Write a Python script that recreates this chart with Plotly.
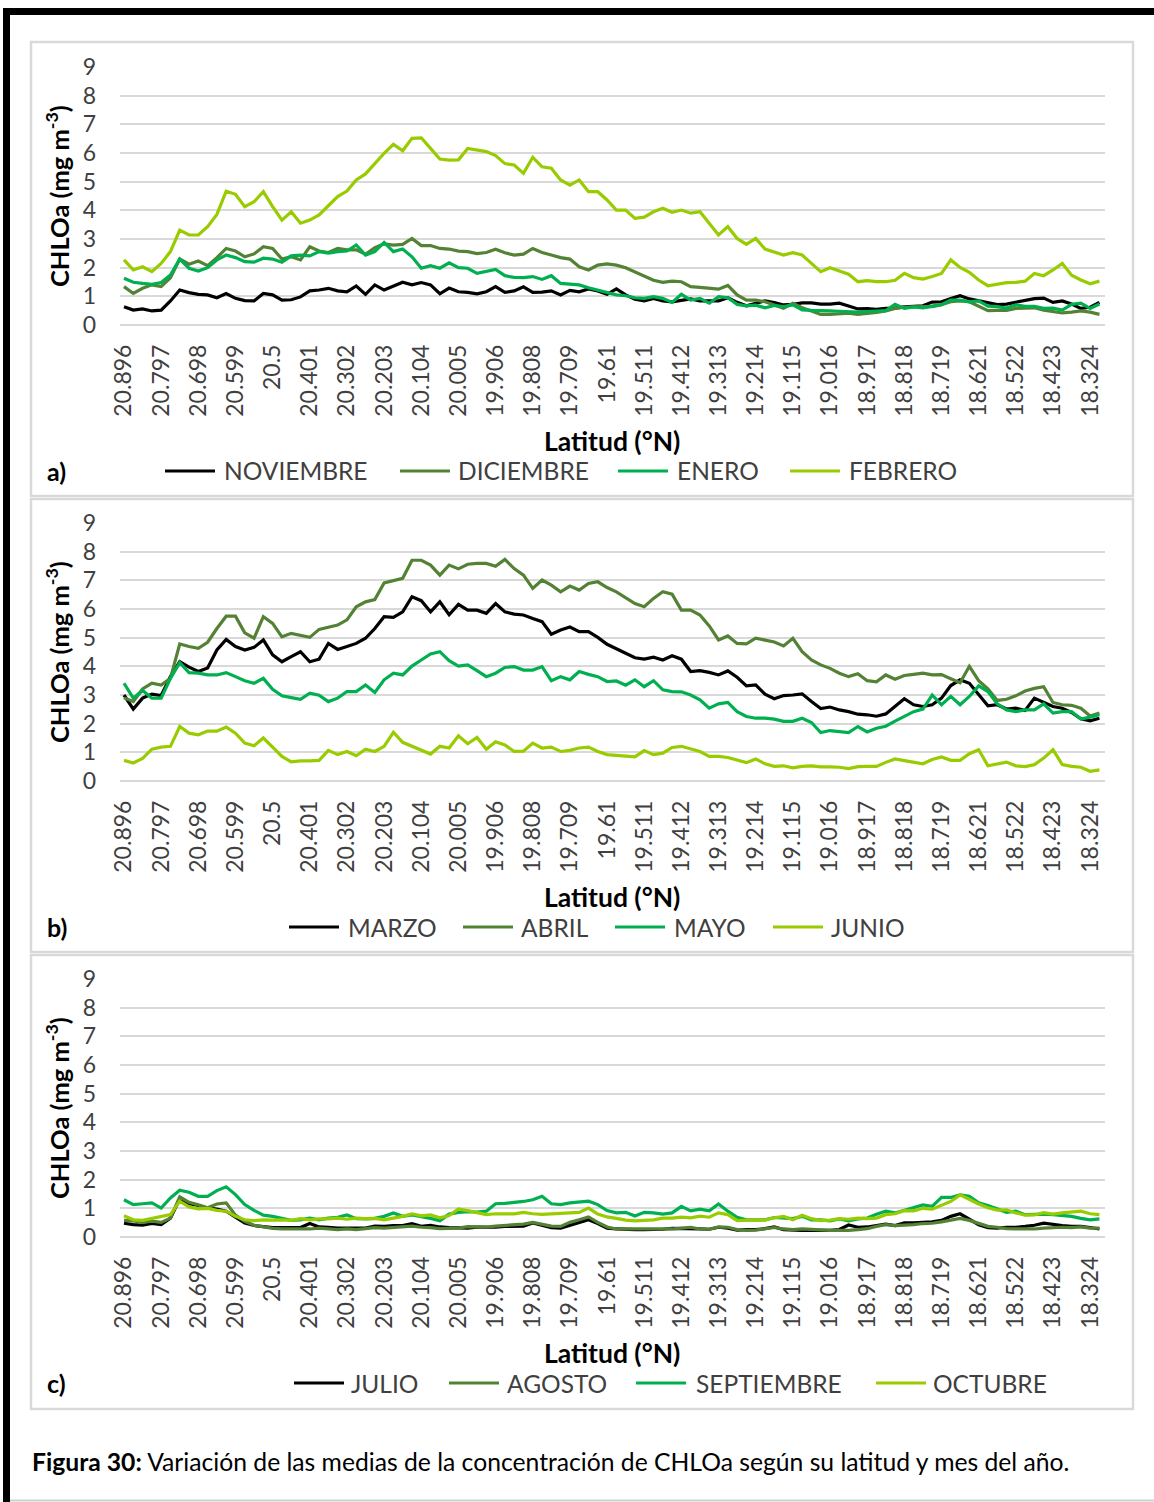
import plotly.graph_objects as go

# ---------------- DATA ----------------
lat_ticks = ["20.896", "20.797", "20.698", "20.599", "20.5", "20.401", "20.302", "20.203",
             "20.104", "20.005", "19.906", "19.808", "19.709", "19.61", "19.511", "19.412",
             "19.313", "19.214", "19.115", "19.016", "18.917", "18.818", "18.719", "18.621",
             "18.522", "18.423", "18.324"]

# panel a
noviembre = [0.64,0.52,0.56,0.49,0.52,0.84,1.22,1.13,1.07,1.05,0.95,1.10,0.93,0.85,0.84,1.10,1.05,0.87,0.88,0.98,1.19,1.22,1.28,1.19,1.16,1.36,1.07,1.40,1.22,1.37,1.49,1.40,1.48,1.40,1.09,1.29,
             1.16,1.14,1.09,1.16,1.34,1.14,1.19,1.33,1.14,1.15,1.19,1.05,1.21,1.16,1.26,1.19,1.07,1.26,1.05,0.90,0.84,0.93,0.84,0.81,0.85,0.91,0.84,0.84,0.84,0.95,0.79,0.67,0.76,0.84,0.78,
             0.70,0.72,0.77,0.77,0.73,0.73,0.76,0.66,0.56,0.57,0.55,0.58,0.59,0.63,0.66,0.67,0.80,0.81,0.92,1.02,0.91,0.85,0.77,0.71,0.73,0.79,0.85,0.92,0.94,0.79,0.84,0.73,0.58,0.62,0.79]
diciembre = [1.34,1.10,1.28,1.40,1.34,1.65,2.30,2.12,2.23,2.07,2.35,2.67,2.58,2.38,2.48,2.73,2.67,2.30,2.38,2.27,2.73,2.58,2.53,2.67,2.62,2.62,2.47,2.70,2.83,2.79,2.81,3.02,2.77,2.77,2.67,2.65,
             2.58,2.56,2.49,2.53,2.64,2.52,2.44,2.47,2.67,2.53,2.44,2.35,2.30,2.03,1.92,2.09,2.13,2.09,2.00,1.86,1.71,1.56,1.49,1.53,1.51,1.34,1.31,1.28,1.25,1.38,1.05,0.87,0.87,0.81,0.70,
             0.58,0.76,0.60,0.49,0.37,0.37,0.40,0.41,0.37,0.40,0.44,0.49,0.58,0.62,0.64,0.64,0.64,0.71,0.81,0.84,0.81,0.64,0.50,0.51,0.51,0.58,0.60,0.60,0.52,0.47,0.42,0.45,0.49,0.45,0.37]
enero = [1.63,1.49,1.45,1.42,1.48,1.74,2.30,1.98,1.88,2.00,2.27,2.44,2.35,2.21,2.19,2.33,2.30,2.19,2.41,2.44,2.41,2.56,2.51,2.56,2.58,2.79,2.44,2.56,2.88,2.56,2.65,2.38,1.98,2.07,1.98,2.17,
         2.00,1.98,1.80,1.86,1.94,1.72,1.66,1.65,1.69,1.59,1.72,1.45,1.42,1.40,1.30,1.22,1.14,1.05,1.02,0.95,0.93,0.99,0.93,0.79,1.07,0.87,0.93,0.76,0.99,0.95,0.72,0.67,0.69,0.60,0.68,
         0.64,0.70,0.53,0.51,0.49,0.49,0.48,0.47,0.45,0.47,0.49,0.50,0.72,0.58,0.63,0.60,0.66,0.71,0.87,0.87,0.81,0.84,0.66,0.64,0.59,0.70,0.65,0.65,0.58,0.59,0.52,0.72,0.76,0.58,0.73]
febrero = [2.27,1.92,2.03,1.86,2.15,2.56,3.31,3.14,3.14,3.43,3.86,4.67,4.56,4.13,4.30,4.65,4.13,3.66,3.95,3.55,3.66,3.84,4.16,4.48,4.67,5.06,5.27,5.64,5.99,6.30,6.08,6.51,6.53,6.16,5.79,5.75,
           5.76,6.16,6.10,6.05,5.91,5.63,5.58,5.29,5.85,5.52,5.47,5.06,4.88,5.06,4.65,4.65,4.36,4.01,4.01,3.72,3.76,3.95,4.07,3.93,4.01,3.90,3.95,3.55,3.14,3.43,3.02,2.81,3.02,2.65,2.55,
           2.44,2.52,2.44,2.15,1.86,2.00,1.88,1.77,1.51,1.55,1.51,1.51,1.56,1.80,1.65,1.60,1.69,1.80,2.27,2.01,1.84,1.57,1.37,1.42,1.48,1.49,1.53,1.80,1.72,1.92,2.15,1.74,1.57,1.44,1.53]

# panel b
marzo = [3.00,2.51,2.89,3.03,2.98,3.64,4.16,3.97,3.82,3.94,4.57,4.94,4.69,4.57,4.66,4.92,4.40,4.16,4.34,4.51,4.16,4.25,4.80,4.59,4.69,4.80,4.98,5.32,5.73,5.71,5.90,6.43,6.29,5.90,6.25,5.80,
         6.16,5.96,5.96,5.85,6.19,5.90,5.82,5.79,5.67,5.56,5.12,5.27,5.37,5.21,5.21,5.01,4.77,4.61,4.48,4.30,4.25,4.32,4.22,4.37,4.25,3.82,3.85,3.79,3.70,3.84,3.62,3.32,3.35,3.03,2.87,
         2.98,3.00,3.04,2.77,2.53,2.58,2.48,2.42,2.33,2.31,2.26,2.34,2.62,2.87,2.66,2.60,2.66,2.89,3.33,3.53,3.41,3.00,2.62,2.66,2.51,2.54,2.46,2.89,2.76,2.60,2.54,2.39,2.17,2.10,2.19]
abril = [2.90,2.77,3.21,3.41,3.35,3.58,4.78,4.69,4.63,4.84,5.32,5.75,5.75,5.17,4.98,5.73,5.50,5.03,5.15,5.09,5.01,5.29,5.36,5.44,5.62,6.08,6.25,6.33,6.91,6.98,7.07,7.70,7.70,7.53,7.18,7.53,
         7.40,7.56,7.59,7.59,7.49,7.73,7.41,7.18,6.72,7.01,6.83,6.60,6.80,6.66,6.89,6.95,6.75,6.60,6.38,6.19,6.08,6.37,6.60,6.52,5.96,5.96,5.79,5.41,4.92,5.06,4.80,4.78,4.98,4.92,4.85,
         4.71,4.98,4.51,4.22,4.05,3.93,3.76,3.64,3.74,3.50,3.46,3.70,3.55,3.68,3.72,3.76,3.70,3.71,3.57,3.43,4.00,3.50,3.21,2.81,2.85,2.97,3.14,3.23,3.29,2.74,2.66,2.64,2.54,2.27,2.37]
mayo = [3.41,2.89,3.16,2.89,2.89,3.58,4.13,3.78,3.76,3.70,3.70,3.78,3.64,3.50,3.41,3.58,3.20,2.97,2.91,2.85,3.06,2.99,2.77,2.89,3.12,3.12,3.35,3.09,3.53,3.76,3.70,4.01,4.22,4.43,4.51,4.20,
        4.01,4.05,3.85,3.64,3.76,3.96,3.99,3.87,3.87,3.99,3.50,3.64,3.53,3.82,3.72,3.64,3.47,3.49,3.34,3.53,3.29,3.50,3.18,3.12,3.11,3.00,2.83,2.54,2.69,2.74,2.42,2.25,2.19,2.19,2.16,
        2.08,2.08,2.19,2.04,1.69,1.76,1.73,1.69,1.90,1.71,1.84,1.91,2.09,2.25,2.42,2.51,3.00,2.66,2.95,2.66,2.95,3.32,3.12,2.69,2.48,2.42,2.48,2.48,2.69,2.37,2.42,2.42,2.16,2.23,2.31]
junio = [0.72,0.63,0.79,1.11,1.18,1.21,1.90,1.67,1.61,1.74,1.74,1.88,1.67,1.32,1.23,1.50,1.18,0.86,0.67,0.70,0.70,0.72,1.07,0.92,1.03,0.88,1.11,1.03,1.21,1.70,1.35,1.21,1.09,0.94,1.21,1.15,
         1.58,1.30,1.52,1.11,1.37,1.26,1.03,1.04,1.32,1.15,1.18,1.03,1.07,1.15,1.18,1.03,0.92,0.90,0.86,0.84,1.06,0.92,0.97,1.17,1.21,1.11,1.03,0.86,0.86,0.82,0.73,0.64,0.77,0.60,0.51,
         0.53,0.46,0.51,0.53,0.49,0.49,0.48,0.43,0.50,0.51,0.51,0.65,0.77,0.71,0.65,0.60,0.75,0.84,0.72,0.72,0.95,1.09,0.53,0.60,0.66,0.53,0.50,0.57,0.80,1.09,0.57,0.51,0.48,0.34,0.39]

# panel c
julio = [0.48,0.43,0.41,0.47,0.43,0.66,1.33,1.16,1.10,1.01,0.97,0.90,0.69,0.49,0.40,0.36,0.33,0.33,0.33,0.33,0.47,0.35,0.34,0.31,0.31,0.31,0.31,0.38,0.37,0.40,0.40,0.47,0.37,0.41,0.35,0.33,
         0.31,0.31,0.34,0.33,0.34,0.37,0.37,0.38,0.49,0.42,0.33,0.31,0.40,0.49,0.60,0.47,0.31,0.28,0.26,0.26,0.26,0.26,0.27,0.30,0.30,0.30,0.28,0.27,0.34,0.31,0.24,0.26,0.26,0.29,0.35,
         0.26,0.24,0.23,0.23,0.23,0.23,0.26,0.42,0.34,0.35,0.40,0.45,0.40,0.49,0.49,0.51,0.53,0.58,0.72,0.81,0.63,0.43,0.33,0.31,0.34,0.34,0.37,0.41,0.48,0.43,0.40,0.37,0.37,0.33,0.28]
agosto = [0.58,0.56,0.51,0.55,0.51,0.66,1.40,1.21,1.12,1.02,1.15,1.19,0.76,0.55,0.41,0.35,0.30,0.28,0.28,0.26,0.28,0.31,0.29,0.26,0.28,0.26,0.29,0.33,0.31,0.33,0.37,0.38,0.34,0.33,0.29,0.29,
          0.31,0.36,0.35,0.35,0.38,0.40,0.42,0.45,0.51,0.45,0.38,0.37,0.51,0.60,0.70,0.51,0.35,0.28,0.28,0.26,0.26,0.28,0.28,0.28,0.31,0.34,0.28,0.27,0.35,0.34,0.26,0.23,0.24,0.29,0.33,
          0.28,0.26,0.28,0.26,0.23,0.23,0.23,0.23,0.26,0.29,0.37,0.43,0.40,0.41,0.43,0.47,0.48,0.53,0.59,0.65,0.58,0.47,0.37,0.34,0.29,0.28,0.28,0.28,0.31,0.33,0.34,0.33,0.35,0.31,0.31]
septiembre = [1.30,1.13,1.16,1.19,1.01,1.36,1.63,1.56,1.42,1.42,1.62,1.75,1.48,1.13,0.93,0.76,0.72,0.65,0.58,0.60,0.66,0.60,0.66,0.69,0.77,0.64,0.63,0.65,0.72,0.84,0.72,0.77,0.72,0.65,0.57,0.80,
              0.86,0.88,0.87,0.90,1.16,1.17,1.21,1.24,1.30,1.42,1.16,1.13,1.19,1.21,1.25,1.13,0.92,0.84,0.86,0.73,0.86,0.84,0.80,0.84,1.07,0.91,0.97,0.91,1.15,0.90,0.69,0.60,0.60,0.60,0.68,
              0.66,0.64,0.72,0.60,0.60,0.56,0.63,0.56,0.63,0.66,0.79,0.90,0.84,0.93,1.01,1.12,1.07,1.38,1.38,1.47,1.42,1.19,1.10,0.98,0.86,0.90,0.78,0.79,0.80,0.78,0.76,0.72,0.65,0.60,0.63]
octubre = [0.74,0.60,0.58,0.64,0.70,0.78,1.25,1.05,0.98,1.00,0.93,0.90,0.72,0.60,0.57,0.60,0.59,0.60,0.58,0.64,0.60,0.63,0.63,0.66,0.62,0.66,0.64,0.65,0.60,0.66,0.72,0.81,0.74,0.77,0.67,0.75,
           0.98,0.92,0.84,0.78,0.81,0.80,0.81,0.86,0.81,0.79,0.80,0.81,0.84,0.86,1.01,0.80,0.70,0.65,0.59,0.56,0.58,0.60,0.66,0.66,0.69,0.67,0.73,0.69,0.84,0.78,0.57,0.59,0.60,0.59,0.67,
           0.72,0.60,0.76,0.64,0.57,0.59,0.64,0.62,0.66,0.64,0.66,0.78,0.81,0.92,0.91,1.00,0.97,1.12,1.24,1.47,1.30,1.15,1.02,0.94,0.95,0.84,0.76,0.77,0.85,0.80,0.84,0.86,0.90,0.81,0.78]

y_ticks = list(range(0, 10))

# ---------------- LAYOUT HELPERS ----------------
W, H = 1154, 1502
def fx(x): return x / W
def fy(y): return 1 - y / H

FONT = "Lato"
TICKC = "#404040"
colors = ["#000000", "#548235", "#00B050", "#99CC00"]

panels = [
    dict(names=["NOVIEMBRE", "DICIEMBRE", "ENERO", "FEBRERO"],
         data=[noviembre, diciembre, enero, febrero],
         y0=325, y9=67, box=(31, 42, 1133, 496), letter="a)", leg_y=471, xt_y=441,
         leg_x=[(165, 222), (400, 456), (618, 675), (790, 847)]),
    dict(names=["MARZO", "ABRIL", "MAYO", "JUNIO"],
         data=[marzo, abril, mayo, junio],
         y0=781, y9=523, box=(31, 499, 1133, 952), letter="b)", leg_y=927, xt_y=897,
         leg_x=[(289, 346), (463, 519), (615, 672), (773, 829)]),
    dict(names=["JULIO", "AGOSTO", "SEPTIEMBRE", "OCTUBRE"],
         data=[julio, agosto, septiembre, octubre],
         y0=1237, y9=979, box=(31, 955, 1133, 1409), letter="c)", leg_y=1383, xt_y=1353,
         leg_x=[(294, 349), (449, 505), (636, 694), (876, 931)]),
]

fig = go.Figure()
shapes, annotations = [], []
n = len(noviembre)
idx = list(range(n))
tickvals = [4 * k for k in range(len(lat_ticks))]

for p_i, p in enumerate(panels):
    k = "" if p_i == 0 else str(p_i + 1)
    for name, vals, col in zip(p["names"], p["data"], colors):
        fig.add_trace(go.Scatter(x=idx, y=vals, mode="lines", name=name,
                                 line=dict(color=col, width=3.2),
                                 xaxis="x" + k, yaxis="y" + k, showlegend=False))
    fig.layout["xaxis" + k] = dict(
        domain=[fx(120), fx(1105)], range=[-0.43, 105.6], anchor="y" + k,
        tickmode="array", tickvals=tickvals, ticktext=lat_ticks, tickangle=-90,
        showgrid=False, zeroline=False, showline=False, ticks="",
        ticklabelstandoff=14, tickfont=dict(family=FONT, size=23, color=TICKC))
    fig.layout["yaxis" + k] = dict(
        domain=[fy(p["y0"]), fy(p["y9"])], range=[0, 9], anchor="x" + k,
        tickmode="array", tickvals=y_ticks, showgrid=True, gridcolor="#D9D9D9",
        gridwidth=1.5, zeroline=True, zerolinecolor="#D9D9D9", zerolinewidth=1.5,
        showline=False, ticks="", ticklabelstandoff=23,
        tickfont=dict(family=FONT, size=23, color=TICKC))
    x0, y0, x1, y1 = p["box"]
    shapes.append(dict(type="rect", xref="paper", yref="paper", x0=fx(x0), x1=fx(x1),
                       y0=fy(y1), y1=fy(y0), line=dict(color="#D9D9D9", width=2.5),
                       layer="below"))
    # axis titles
    annotations.append(dict(xref="paper", yref="paper", x=fx(612), y=fy(p["xt_y"]),
                            text="<b>Latitud (°N)</b>", showarrow=False,
                            xanchor="center", yanchor="middle",
                            font=dict(family=FONT, size=26.5, color="#000000")))
    annotations.append(dict(xref="paper", yref="paper", x=fx(57), y=fy((p["y0"] + p["y9"]) / 2),
                            text="<b>CHLOa (mg m<sup>-3</sup>)</b>", showarrow=False, textangle=-90,
                            xanchor="center", yanchor="middle",
                            font=dict(family=FONT, size=25.5, color="#000000")))
    annotations.append(dict(xref="paper", yref="paper", x=fx(45), y=fy(p["leg_y"]),
                            text="<b>" + p["letter"] + "</b>", showarrow=False,
                            xanchor="left", yanchor="middle",
                            font=dict(family=FONT, size=25, color="#000000")))
    # legend
    for (lx, tx), name, col in zip(p["leg_x"], p["names"], colors):
        shapes.append(dict(type="line", xref="paper", yref="paper", x0=fx(lx), x1=fx(lx + 50),
                           y0=fy(p["leg_y"]), y1=fy(p["leg_y"]), line=dict(color=col, width=3)))
        annotations.append(dict(xref="paper", yref="paper", x=fx(tx), y=fy(p["leg_y"]),
                                text=name, showarrow=False, xanchor="left", yanchor="middle",
                                font=dict(family=FONT, size=24.5, color=TICKC)))

# outer frame
shapes.append(dict(type="line", xref="paper", yref="paper", x0=fx(3), x1=1.0,
                   y0=fy(11.5), y1=fy(11.5), line=dict(color="#000000", width=7)))
shapes.append(dict(type="line", xref="paper", yref="paper", x0=fx(6.5), x1=fx(6.5),
                   y0=0, y1=fy(8), line=dict(color="#000000", width=7)))
shapes.append(dict(type="line", xref="paper", yref="paper", x0=fx(10), x1=1.0,
                   y0=fy(1500.5), y1=fy(1500.5), line=dict(color="#D0D0D0", width=2)))

annotations.append(dict(xref="paper", yref="paper", x=fx(30), y=fy(1461),
                        text="<b>Figura 30:</b> Variación de las medias de la concentración de CHLOa según su latitud y mes del año.",
                        showarrow=False, xanchor="left", yanchor="middle",
                        font=dict(family=FONT, size=24.7, color="#000000")))

fig.update_layout(width=W, height=H, margin=dict(l=0, r=0, t=0, b=0),
                  template="none", paper_bgcolor="white", plot_bgcolor="white",
                  shapes=shapes, annotations=annotations, showlegend=False)

fig.write_html("out.html", config={"displayModeBar": False},
               post_script="document.body.style.margin='0';")
